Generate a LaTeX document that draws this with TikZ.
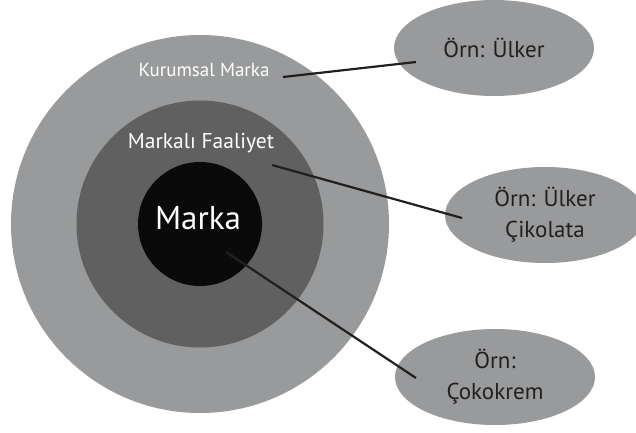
\documentclass[tikz,border=0pt]{standalone}
\usepackage{fontspec}
\setmainfont{PT Sans}
\usetikzlibrary{shapes.geometric}
\definecolor{lightring}{HTML}{989A9B}
\definecolor{darkring}{HTML}{606060}
\definecolor{core}{HTML}{0A0A0A}
\definecolor{ink}{HTML}{231F20}
\tikzset{
  ring/.style={circle, draw=none, inner sep=0pt},
  example/.style={ellipse, fill=lightring, minimum width=200pt, minimum height=96pt,
    inner sep=0pt, text=ink, font=\fontsize{23}{31}\selectfont, align=center},
  link/.style={draw=ink, line width=2.2pt}
}
\begin{document}
\begin{tikzpicture}[x=1pt,y=-1pt]
\useasboundingbox (0,0) rectangle (636,432);
\clip (0,0) rectangle (636,432);
% rings
\node[ring, fill=lightring, minimum size=378pt] (outer) at (200,224) {};
\node[ring, fill=darkring, minimum size=247pt] (middle) at (200,224) {};
\node[ring, fill=core, minimum size=124pt] (inner) at (200,224) {};
% ring labels
\node[text=white, font=\fontsize{19}{22}\selectfont] (kurumsal) at (204,70) {Kurumsal Marka};
\node[text=white, font=\fontsize{21.5}{24}\selectfont] (faaliyet) at (201,143) {Markalı Faaliyet};
\node[text=white, font=\fontsize{33}{36}\selectfont] (marka) at (198,218) {Marka};
% examples
\node[example] (ulker) at (494,48) {Örn: Ülker};
\node[example] (cikolata) at (545,215) {Örn: Ülker\\ Çikolata};
\node[example] (cokokrem) at (495,377) {Örn:\\Çokokrem};
% connecting lines
\coordinate (k1) at (283,77);
\coordinate (k2) at (416,62);
\coordinate (f1) at (272,165);
\coordinate (f2) at (462,218);
\coordinate (m1) at (226,252);
\coordinate (m2) at (416,378);
\draw[link] (k1) -- (k2);
\draw[link] (f1) -- (f2);
\draw[link] (m1) -- (m2);
\end{tikzpicture}
\end{document}
